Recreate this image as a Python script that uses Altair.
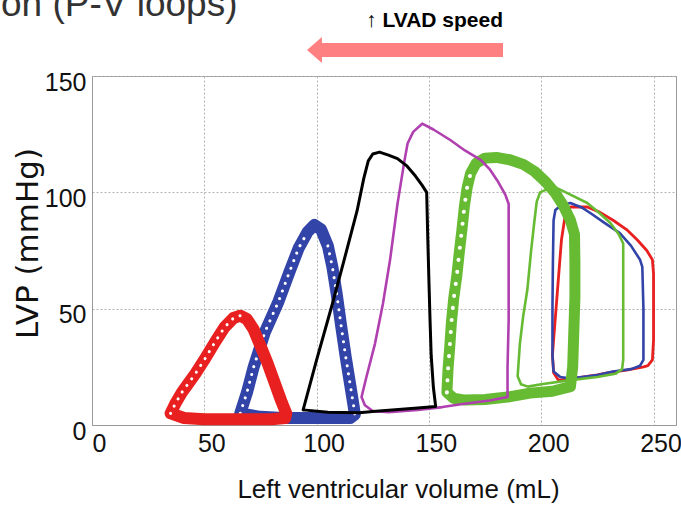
import altair as alt
import pandas as pd

# Pressure-volume loops, one per LVAD speed setting (volume in mL, pressure in mmHg)
red_thin_v = [207.6, 205.5, 205, 205.5, 207, 209, 210.8, 213, 220.5, 226, 232, 238, 242.8, 247, 249.5, 250, 250, 250, 249.5, 247.5, 245.6, 238, 230, 225, 214.5, 207.6]
red_thin_p = [19.3, 22.5, 30, 36.5, 55, 79.5, 91, 93.7, 93.7, 91.5, 88, 84, 79.5, 75, 71, 65, 50, 36.5, 28, 25.5, 25, 23.6, 22.5, 21.5, 20, 19.3]

blue_thin_v = [205.5, 205, 205, 205.2, 205.5, 206.3, 209, 213, 218, 222, 228, 235, 240, 244, 245, 245.5, 245.5, 244, 240, 232, 225, 213, 208.5, 205.5]
blue_thin_p = [23, 30, 50, 70, 88, 92.4, 94.5, 95.4, 93.5, 91, 87, 82.5, 77, 71, 68, 50, 28, 25.5, 24, 23, 21.5, 20, 20.6, 23]

green_thin_v = [191, 189.5, 190.5, 192, 193.8, 195.5, 197, 198, 199.5, 203, 207, 213, 220.5, 226, 230.8, 234.5, 236.5, 236.5, 236.5, 236.5, 236, 233, 225, 213, 200, 194, 191]
green_thin_p = [17.5, 21, 35, 47, 58, 75, 88, 96, 100, 101.5, 101.8, 99, 95.4, 91, 86.8, 82, 78, 60, 40, 28, 24, 22, 20.6, 19.3, 17.5, 16.5, 17.5]

green_thick_v = [158, 158.5, 159.3, 160, 161, 162.4, 163.5, 164.7, 165.8, 167, 168.5, 171, 175, 180, 186, 192, 197, 202, 206, 210, 213, 214.8, 215, 215, 214.5, 214, 213, 205, 195, 185, 175, 166, 161, 158]
green_thick_p = [14, 24, 34, 44, 54, 64, 74, 84, 94, 102, 108, 112.5, 114.7, 115, 114, 112, 109, 104.5, 100, 94, 88, 82, 70, 55, 40, 25, 16.5, 14.5, 13.7, 12, 11, 10.7, 11.5, 14]

magenta_v = [120, 122, 126, 129.5, 132.7, 136, 139, 140.5, 143, 147, 152, 159.5, 166, 173, 177, 180.5, 184, 185.5, 185.5, 185.5, 185, 185, 177, 165, 156, 145, 132, 125, 121.5, 120]
magenta_p = [12, 20, 35, 52, 71, 95, 113, 121, 126, 129.5, 127, 122.5, 118, 114, 110, 105, 99, 95, 70, 45, 25, 12, 10.5, 9, 7.7, 6.5, 5.5, 6, 8.5, 12]

black_v = [94, 100, 107, 112, 118, 121, 123, 125, 128, 132, 136, 140, 144, 147, 149, 149.5, 150, 150.5, 151, 152, 153, 145, 135, 125, 119, 105, 94]
black_p = [6.5, 28, 52, 70, 92, 106, 113.5, 116.5, 117.3, 116, 114.5, 111.5, 107, 103, 100, 80, 62, 45, 30, 16, 8, 7.3, 6.6, 5.8, 5.3, 5.5, 6.5]

blue_thick_v = [66, 69, 72, 77, 83, 88, 92, 96, 99, 102, 105, 107, 109, 111, 113, 115, 116.5, 117, 115, 105, 95, 85, 75, 66]
blue_thick_p = [5, 14, 25, 40, 53, 66, 76, 83, 86, 84, 77, 68, 56, 42, 29, 17, 8, 4.5, 3, 3, 3, 3, 3.5, 5]

red_thick_v = [35, 37, 40, 43, 46, 50, 55, 59, 63, 66, 69, 72, 75, 78, 81, 84, 86.5, 86, 80, 70, 60, 50, 41, 35]
red_thick_p = [5, 9, 14, 18, 22, 28, 36, 42, 46, 47, 45.5, 41, 34, 27, 19, 11, 5, 3, 2.5, 2.5, 2.5, 2.5, 3, 5]

x_ticks = [0, 50, 100, 150, 200, 250]
y_ticks = [0, 50, 100, 150]

SANS = "Liberation Sans, Arial, sans-serif"

X = alt.X(
    "V:Q",
    scale=alt.Scale(domain=[0, 260], nice=False, zero=False),
    axis=alt.Axis(values=x_ticks, title="Left ventricular volume (mL)",
                  labelOffset=7, labelPadding=6, labelFlush=False,
                  titleX=306, titleY=72, titleBaseline="alphabetic"),
)
Y = alt.Y(
    "P:Q",
    scale=alt.Scale(domain=[0, 150], nice=False, zero=False),
    axis=alt.Axis(values=y_ticks, title="LVP (mmHg)",
                  labelOffset=6, labelPadding=6, labelFlush=False,
                  titleX=-55, titleY=167, titleBaseline="alphabetic",
                  titleFont="DejaVu Sans", titleFontSize=31),
)


def frame(v, p):
    return pd.DataFrame({"V": v, "P": p, "i": list(range(len(v)))})


def loop(v, p, color, width):
    return alt.Chart(frame(v, p)).mark_line(
        color=color, strokeWidth=width, strokeJoin="round", strokeCap="round"
    ).encode(x=X, y=Y, order="i:Q")


def beads(v, p, start, end, gap, dot):
    # white centres of the overlapping circle markers on the sparse sides
    df = frame(v, p).iloc[start:end + 1]
    return alt.Chart(df).mark_line(
        color="white", strokeWidth=dot, strokeDash=[0.1, gap], strokeCap="round"
    ).encode(x=X, y=Y, order="i:Q")


RED, BLUE, GREEN, MAGENTA = "#e8201f", "#3344a8", "#66bb33", "#b040b0"

layers = [
    loop(red_thin_v, red_thin_p, RED, 2.8),
    loop(blue_thin_v, blue_thin_p, BLUE, 2.6),
    loop(green_thin_v, green_thin_p, GREEN, 2.6),
    loop(green_thick_v, green_thick_p, GREEN, 11),
    beads(green_thick_v, green_thick_p, 0, 10, 12, 4),
    loop(magenta_v, magenta_p, MAGENTA, 2.6),
    loop(blue_thick_v, blue_thick_p, BLUE, 12),
    beads(blue_thick_v, blue_thick_p, 0, 7, 8, 3),
    beads(blue_thick_v, blue_thick_p, 10, 17, 8, 3),
    loop(black_v, black_p, "black", 3),
    loop(red_thick_v, red_thick_p, RED, 12),
    beads(red_thick_v, red_thick_p, 0, 9, 8, 3),
]

one = pd.DataFrame({"k": [0]})

heading = alt.Chart(one).mark_text(
    text="on (P-V loops)", align="left", baseline="alphabetic",
    fontSize=37, font=SANS, color="#333333"
).encode(x=alt.value(-91), y=alt.value(-60))

speed_label = alt.Chart(one).mark_text(
    text="↑ LVAD speed", align="right", baseline="alphabetic",
    fontSize=21, fontWeight="bold", font=SANS, color="black"
).encode(x=alt.value(411), y=alt.value(-49))

shaft = alt.Chart(one).mark_rule(
    color="#ff8080", strokeWidth=14, strokeCap="butt"
).encode(x=alt.value(228), x2=alt.value(411), y=alt.value(-26))

head = alt.Chart(one).mark_point(
    shape="M0.15,-1L-1,0L0.15,1Z", size=676, filled=True,
    color="#ff8080", opacity=1, strokeWidth=0
).encode(x=alt.value(228), y=alt.value(-26))

chart = alt.layer(*layers, heading, speed_label, shaft, head).properties(
    width=584, height=349,
    padding={"left": 92, "top": 76, "right": 5, "bottom": 81},
    autosize=alt.AutoSizeParams(type="none"),
).configure_view(
    stroke="#999999", strokeWidth=1
).configure_axis(
    grid=True, gridDash=[2, 2], gridColor="#b5b5b5", gridWidth=1,
    domainColor="#999999", ticks=False, labelOverlap=False,
    labelFont=SANS, labelFontSize=25, labelColor="#111111",
    titleFont=SANS, titleFontSize=26, titleFontWeight="normal",
    titleColor="#111111",
).configure_axisY(labelBaseline="middle")

chart.save("out.html", embed_options={"renderer": "svg", "actions": False})
